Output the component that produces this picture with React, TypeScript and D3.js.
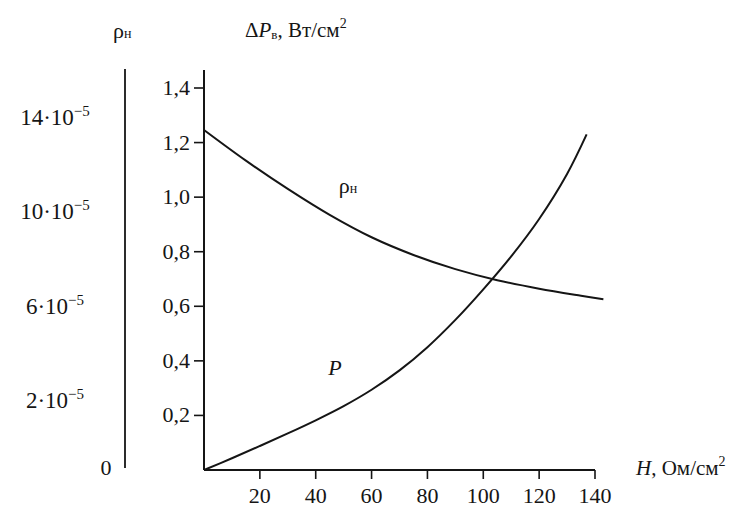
import React from "react";
import * as d3 from "d3";

// Data
const H_P = [0, 10, 20, 30, 40, 50, 60, 70, 80, 90, 100, 110, 120, 130, 137];
const P_VAL = [0, 0.043, 0.088, 0.134, 0.182, 0.234, 0.294, 0.365, 0.45, 0.55, 0.662, 0.783, 0.92, 1.085, 1.23];
const H_RHO = [0, 15, 30, 45, 60, 75, 90, 105, 120, 135, 143];
const RHO_VAL = [13.45, 12.15, 10.95, 9.85, 8.9, 8.15, 7.55, 7.08, 6.72, 6.42, 6.27]; // ×10^-5
const X_TICKS = [20, 40, 60, 80, 100, 120, 140];
const P_TICKS = [0.2, 0.4, 0.6, 0.8, 1.0, 1.2, 1.4];
const RHO_TICKS = [0, 2, 6, 10, 14];

const W = 752;
const H = 509;
const FONT = "'Liberation Serif', 'Times New Roman', serif";
const INK = "#151515";

export default function App() {
  const x = d3.scaleLinear().domain([0, 140]).range([204, 595]);
  const yP = d3.scaleLinear().domain([0, 1.4]).range([470, 88]);
  const yRho = d3.scaleLinear().domain([0, 2, 14]).range([468, 400, 117]);

  const pLine = d3
    .line<number>()
    .x((_, i) => x(H_P[i]))
    .y((d) => yP(d))
    .curve(d3.curveCatmullRom.alpha(0.5))(P_VAL) as string;
  const rhoLine = d3
    .line<number>()
    .x((_, i) => x(H_RHO[i]))
    .y((d) => yRho(d))
    .curve(d3.curveCatmullRom.alpha(0.5))(RHO_VAL) as string;

  const fmt = (v: number) => d3.format(".1f")(v).replace(".", ",");
  const x0 = x(0);
  const yBase = yP(0);
  const outerX = 125;
  const axisTop = 70;

  return (
    <svg
      width={W}
      height={H}
      style={{ position: "absolute", left: 0, top: 0, background: "#fff" }}
      fontFamily={FONT}
      fill={INK}
    >
      <rect x={0} y={0} width={W} height={H} fill="#fff" />

      {/* outer rho axis */}
      <line x1={outerX} x2={outerX} y1={axisTop - 1} y2={yRho(0)} stroke={INK} strokeWidth={1.8} />
      {RHO_TICKS.map((t) =>
        t === 0 ? (
          <text key={t} x={106} y={yRho(t) + 7} fontSize={22} textAnchor="middle">
            0
          </text>
        ) : (
          <text key={t} x={55} y={yRho(t) + 8} fontSize={23} textAnchor="middle">
            {t}·10
            <tspan fontSize={15} dy={-9}>
              −5
            </tspan>
          </text>
        )
      )}

      {/* inner P axis */}
      <line x1={x0} x2={x0} y1={axisTop} y2={yBase} stroke={INK} strokeWidth={2} />
      {P_TICKS.map((t) => (
        <g key={t}>
          <line x1={x0 - 10} x2={x0} y1={yP(t)} y2={yP(t)} stroke={INK} strokeWidth={1.6} />
          <text x={190} y={yP(t) + 7} fontSize={22} textAnchor="end">
            {fmt(t)}
          </text>
        </g>
      ))}

      {/* x axis */}
      <line x1={x0} x2={x(140)} y1={yBase} y2={yBase} stroke={INK} strokeWidth={2} />
      {X_TICKS.map((t) => (
        <g key={t}>
          <line x1={x(t)} x2={x(t)} y1={yBase} y2={yBase + 9} stroke={INK} strokeWidth={1.6} />
          <text x={x(t)} y={503} fontSize={22} textAnchor="middle">
            {t}
          </text>
        </g>
      ))}

      {/* curves */}
      <path d={rhoLine} fill="none" stroke={INK} strokeWidth={2} />
      <path d={pLine} fill="none" stroke={INK} strokeWidth={2} />

      {/* curve labels */}
      <text x={348} y={193} fontSize={22} textAnchor="middle">
        ρ<tspan fontSize={14}>н</tspan>
      </text>
      <text x={335} y={375} fontSize={22} fontStyle="italic" textAnchor="middle">
        P
      </text>

      {/* axis titles */}
      <text x={113} y={38} fontSize={22}>
        ρ<tspan fontSize={14}>н</tspan>
      </text>
      <text x={245} y={37} fontSize={21}>
        Δ<tspan fontStyle="italic">P</tspan>
        <tspan fontSize={13} dy={2}>в</tspan>
        <tspan dy={-2}>, Вт/см</tspan>
        <tspan fontSize={14} dy={-9}>2</tspan>
      </text>
      <text x={636} y={475} fontSize={21}>
        <tspan fontStyle="italic">H</tspan>, Ом/см
        <tspan fontSize={14} dy={-9}>2</tspan>
      </text>
    </svg>
  );
}
